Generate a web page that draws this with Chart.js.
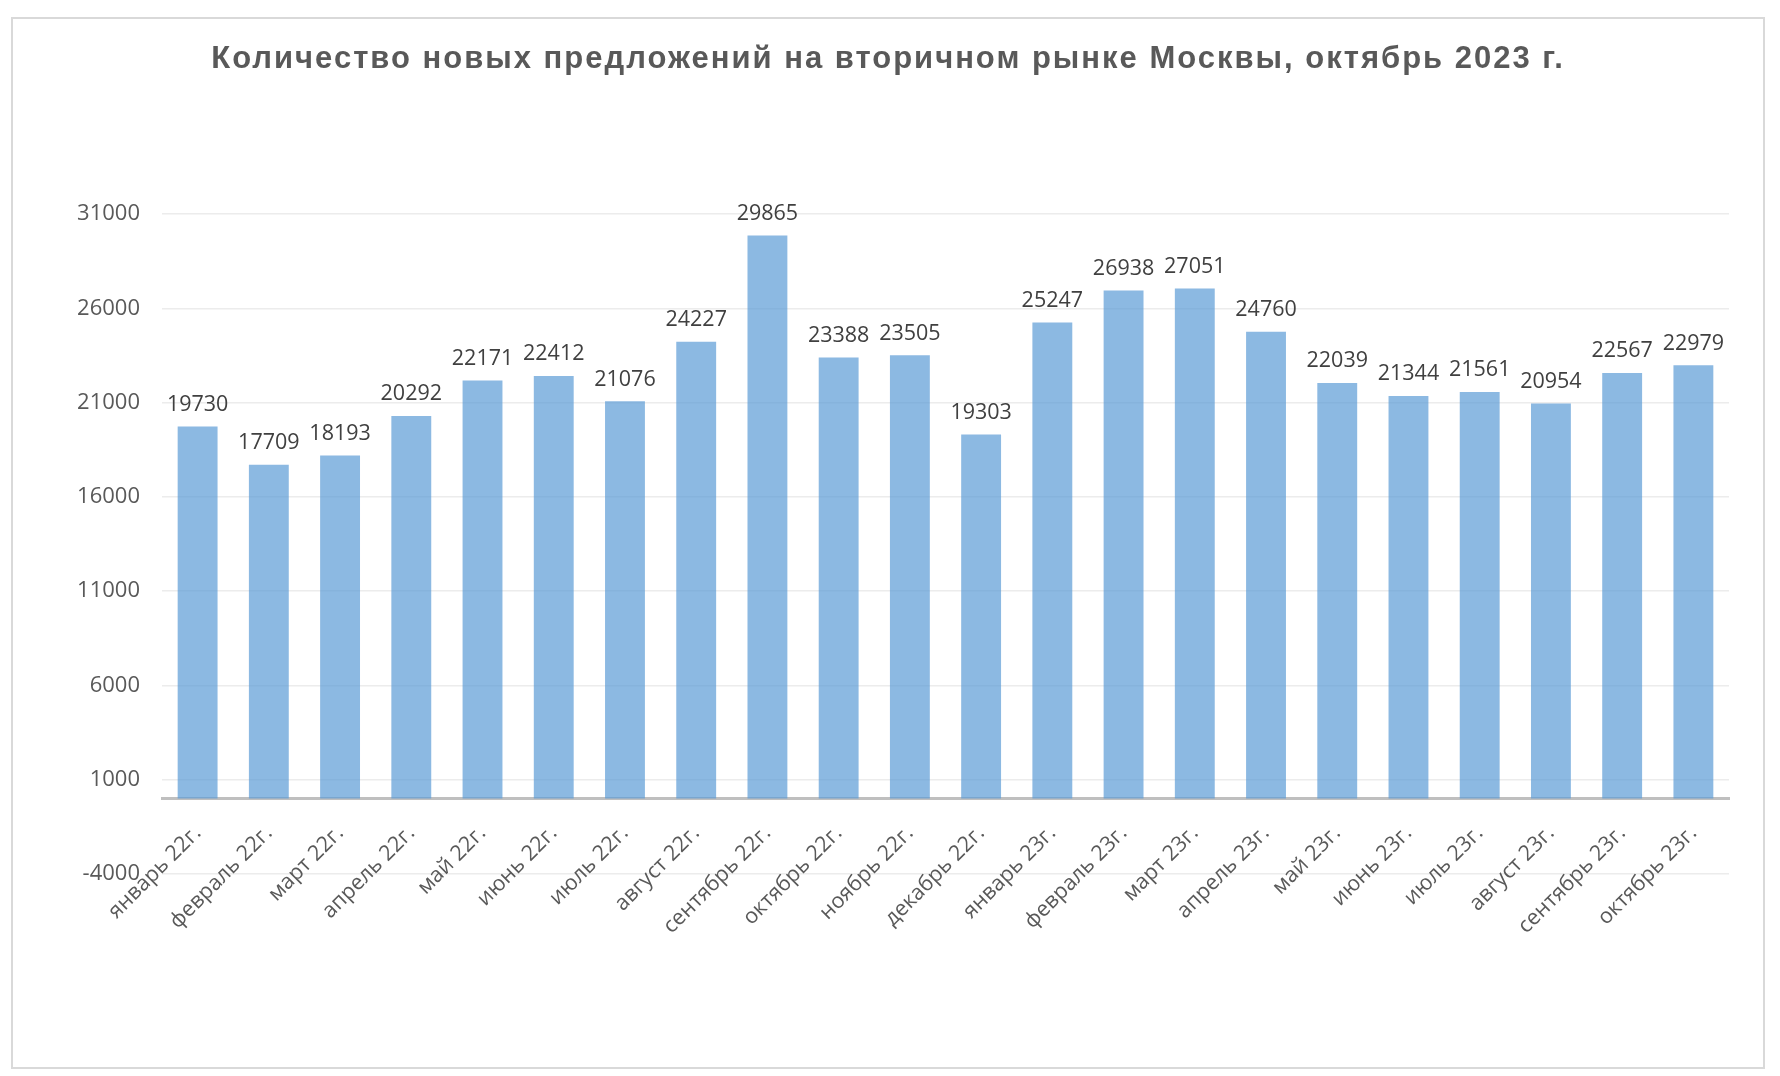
<!DOCTYPE html>
<html>
<head>
<meta charset="utf-8">
<script src="https://cdn.jsdelivr.net/npm/chart.js@4"></script>
<style>
  html, body { margin: 0; padding: 0; background: #fff; }
  #frame { position: absolute; left: 11px; top: 17px; width: 1750px; height: 1048px; border: 2px solid #d9d9d9; }
  #chart { position: absolute; left: 0; top: 0; }
</style>
</head>
<body>
<div id="frame"></div>
<canvas id="chart" width="1780" height="1076"></canvas>
<script>
const titleText = 'Количество новых предложений на вторичном рынке Москвы, октябрь 2023 г.';

const months = [
  'январь 22г.', 'февраль 22г.', 'март 22г.', 'апрель 22г.', 'май 22г.', 'июнь 22г.',
  'июль 22г.', 'август 22г.', 'сентябрь 22г.', 'октябрь 22г.', 'ноябрь 22г.', 'декабрь 22г.',
  'январь 23г.', 'февраль 23г.', 'март 23г.', 'апрель 23г.', 'май 23г.', 'июнь 23г.',
  'июль 23г.', 'август 23г.', 'сентябрь 23г.', 'октябрь 23г.'
];

const offers = [
  19730, 17709, 18193, 20292, 22171, 22412, 21076, 24227, 29865, 23388, 23505, 19303,
  25247, 26938, 27051, 24760, 22039, 21344, 21561, 20954, 22567, 22979
];

const yMin = -4000;
const yMax = 31000;
const yStep = 5000;

// title with letter spacing, drawn by hand
const titlePlugin = {
  id: 'spacedTitle',
  afterDraw(chart) {
    const ctx = chart.ctx;
    ctx.save();
    ctx.font = 'bold 31px "Liberation Sans", Arial, sans-serif';
    ctx.letterSpacing = '2px';
    ctx.fillStyle = '#595959';
    ctx.textAlign = 'center';
    ctx.textBaseline = 'middle';
    ctx.fillText(titleText, 888, 59);
    ctx.restore();
  }
};

// value labels above bars
const valueLabels = {
  id: 'valueLabels',
  afterDatasetsDraw(chart) {
    const ctx = chart.ctx;
    const meta = chart.getDatasetMeta(0);
    ctx.save();
    ctx.font = '21.5px "Open Sans", sans-serif';
    ctx.fillStyle = '#404040';
    ctx.textAlign = 'center';
    ctx.textBaseline = 'bottom';
    meta.data.forEach((bar, i) => {
      ctx.fillText(String(offers[i]), bar.x, bar.y - 11);
    });
    ctx.restore();
  }
};

const ctx = document.getElementById('chart');
new Chart(ctx, {
  type: 'bar',
  data: {
    labels: months,
    datasets: [{
      data: offers,
      backgroundColor: 'rgba(91,155,213,0.7)',
      borderWidth: 0,
      barPercentage: 0.56,
      categoryPercentage: 1
    }]
  },
  options: {
    responsive: false,
    animation: false,
    layout: {
      padding: { left: 20, right: 51, top: 214, bottom: 202 }
    },
    plugins: {
      legend: { display: false },
      title: { display: false },
      tooltip: { enabled: false }
    },
    scales: {
      x: {
        position: { y: 0 },
        grid: { display: false, drawTicks: false },
        border: { display: true, color: '#bfbfbf', width: 3 },
        ticks: {
          color: '#595959',
          font: { family: '"Open Sans", sans-serif', size: 21.5 },
          minRotation: 45,
          maxRotation: 45,
          padding: 22,
          autoSkip: false
        }
      },
      y: {
        min: yMin,
        max: yMax,
        afterFit(scale) { scale.width = 142; },
        grid: { color: '#ececec', lineWidth: 1.5, drawTicks: false },
        border: { display: false },
        ticks: {
          stepSize: yStep,
          color: '#595959',
          font: { family: '"Open Sans", sans-serif', size: 22 },
          padding: 22,
          callback: (v) => String(v)
        }
      }
    }
  },
  plugins: [titlePlugin, valueLabels]
});
</script>
</body>
</html>
